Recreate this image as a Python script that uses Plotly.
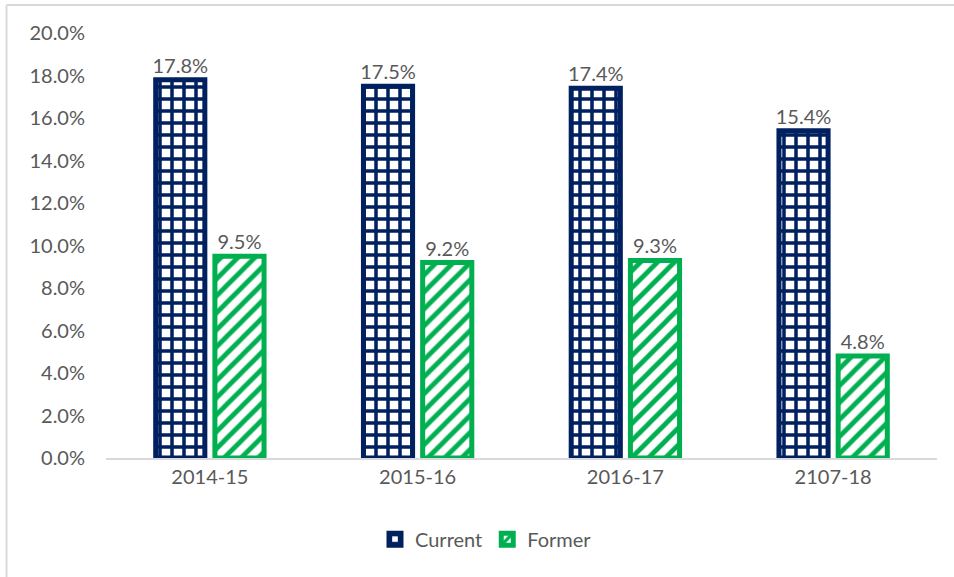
import plotly.graph_objects as go

categories = ["2014-15", "2015-16", "2016-17", "2107-18"]
current = [0.178, 0.175, 0.174, 0.154]
former = [0.095, 0.092, 0.093, 0.048]
y_ticks = [0.0, 0.02, 0.04, 0.06, 0.08, 0.10, 0.12, 0.14, 0.16, 0.18, 0.20]

NAVY = "#002060"
GREEN = "#00B050"
GRAY = "#595959"
FONT = "Lato, Open Sans, sans-serif"

fig = go.Figure()
fig.add_trace(go.Bar(
    name="Current", x=categories, y=current,
    text=[f"{v*100:.1f}%" for v in current], textposition="outside",
    constraintext="none",
    textfont=dict(size=20, color=GRAY, family=FONT),
    marker=dict(color=NAVY, line=dict(color=NAVY, width=5),
                pattern=dict(shape="+", fillmode="replace", fgcolor=NAVY,
                             bgcolor="white", size=12, solidity=0.5)),
    cliponaxis=False,
))
fig.add_trace(go.Bar(
    name="Former", x=categories, y=former,
    text=[f"{v*100:.1f}%" for v in former], textposition="outside",
    constraintext="none",
    textfont=dict(size=20, color=GRAY, family=FONT),
    marker=dict(color=GREEN, line=dict(color=GREEN, width=5),
                pattern=dict(shape="/", fillmode="replace", fgcolor=GREEN,
                             bgcolor="white", size=12, solidity=0.4)),
    cliponaxis=False,
))

L, R, T, B = 106, 17, 33, 119
W, H = 954, 577
pw, ph = W - L - R, H - T - B
bx = (6.5 - L) / pw
by_top = (H - B - 5) / ph
by_bot = (H - B - H) / ph
bx_right = (W - L) / pw

fig.update_layout(
    width=W, height=H,
    margin=dict(l=L, r=R, t=T, b=B, autoexpand=False),
    paper_bgcolor="white", plot_bgcolor="white",
    barmode="group", bargap=0.43, bargroupgap=0.17,
    font=dict(family=FONT, size=20, color=GRAY),
    showlegend=True,
    legend=dict(orientation="h", x=(486 - L) / pw, xanchor="center",
                y=-0.145, yanchor="top",
                font=dict(size=20, color=GRAY, family=FONT),
                itemwidth=30, traceorder="normal"),
    xaxis=dict(showgrid=False, showline=True, linecolor="#D9D9D9", linewidth=2,
               ticks="", automargin=False, tickfont=dict(size=20, color=GRAY)),
    yaxis=dict(range=[0, 0.2], tickvals=y_ticks, tickformat=".1%",
               showgrid=False, zeroline=False, showline=False, ticks="",
               automargin=False, ticklabelstandoff=20,
               tickfont=dict(size=20, color=GRAY)),
    shapes=[
        dict(type="line", xref="paper", yref="paper", x0=bx, x1=bx,
             y0=by_bot, y1=by_top, layer="above", line=dict(color="#D9D9D9", width=2)),
        dict(type="line", xref="paper", yref="paper", x0=bx, x1=bx_right,
             y0=by_top, y1=by_top, layer="above", line=dict(color="#D9D9D9", width=2)),
    ],
)

fig.write_html("out.html", config={"displayModeBar": False},
               post_script="document.body.style.margin='0';document.body.style.overflow='hidden';")
